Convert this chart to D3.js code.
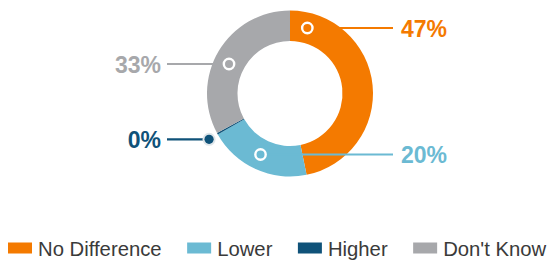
<!DOCTYPE html>
<html>
<head>
<meta charset="utf-8">
<script src="https://cdn.jsdelivr.net/npm/d3@7"></script>
<style>
  html, body { margin: 0; padding: 0; background: #fff; }
  svg { display: block; font-family: "Liberation Sans", Arial, sans-serif; }
</style>
</head>
<body>
<svg id="chart" width="552" height="261"></svg>
<script>
// ---- data ----
const categories = ["No Difference", "Lower", "Higher", "Don't Know"];
const values = [46.8, 20.0, 0.3, 32.9];
const colors = ["#f47a00", "#6bbad3", "#0f5279", "#a7a8ab"];

// ---- layout ----
const cx = 290, cy = 93.5, rOuter = 83, rInner = 52.5;
const rMid = (rOuter + rInner) / 2;
const svg = d3.select("#chart");

const pie = d3.pie().sort(null).value(d => d.value);
const arcs = pie(categories.map((c, i) => ({ cat: c, value: values[i], color: colors[i] })));
const arc = d3.arc().innerRadius(rInner).outerRadius(rOuter);

const g = svg.append("g").attr("transform", `translate(${cx},${cy})`);
g.selectAll("path").data(arcs).enter().append("path")
  .attr("d", arc).attr("fill", d => d.data.color);

// label layout (per category): label side, dot side, line y, or outside dot radius
const labelLayout = [
  { side: "right", dot: "right", y: 28 },
  { side: "right", dot: "left", y: 154.5 },
  { side: "left", outside: 93 },
  { side: "left", dot: "left", y: 64 }
];
const xRightLine = 393, xRightText = 401, xLeftLine = 167, xLeftText = 161;

arcs.forEach((a, i) => {
  const L = labelLayout[i];
  let px, py;
  if (L.outside) {
    const ang = a.startAngle;
    px = cx + L.outside * Math.sin(ang);
    py = cy - L.outside * Math.cos(ang);
  } else {
    const dy = L.y - cy;
    const dx = Math.sqrt(rMid * rMid - dy * dy);
    px = L.dot === "right" ? cx + dx : cx - dx;
    py = L.y;
  }
  const lx = L.side === "right" ? xRightLine : xLeftLine;
  svg.append("line").attr("x1", px).attr("y1", py).attr("x2", lx).attr("y2", py)
    .attr("stroke", a.data.color).attr("stroke-width", 2.2);
  if (L.outside) {
    svg.append("circle").attr("cx", px).attr("cy", py).attr("r", 6.5)
      .attr("fill", "#dfe6ea");
    svg.append("circle").attr("cx", px).attr("cy", py).attr("r", 4.6)
      .attr("fill", a.data.color);
  } else {
    svg.append("circle").attr("cx", px).attr("cy", py).attr("r", 5.2)
      .attr("fill", a.data.color).attr("stroke", "#fff").attr("stroke-width", 2.4);
  }
  svg.append("text")
    .attr("x", L.side === "right" ? xRightText : xLeftText)
    .attr("y", py + 8.5)
    .attr("text-anchor", L.side === "right" ? "start" : "end")
    .attr("font-size", 23).attr("font-weight", "bold")
    .attr("fill", a.data.color)
    .text(Math.round(a.data.value) + "%");
});

// ---- legend ----
const legend = svg.append("g");
let lxPos = 8;
categories.forEach((c, i) => {
  const item = legend.append("g");
  item.append("rect").attr("x", lxPos).attr("y", 242.5).attr("width", 24).attr("height", 11)
    .attr("fill", colors[i]);
  const t = item.append("text").attr("x", lxPos + 30).attr("y", 255.5)
    .attr("font-size", 20.3).attr("fill", "#3a3a3a").text(c);
  const w = t.node().getComputedTextLength();
  lxPos += 30 + w + 25.5;
});
</script>
</body>
</html>
